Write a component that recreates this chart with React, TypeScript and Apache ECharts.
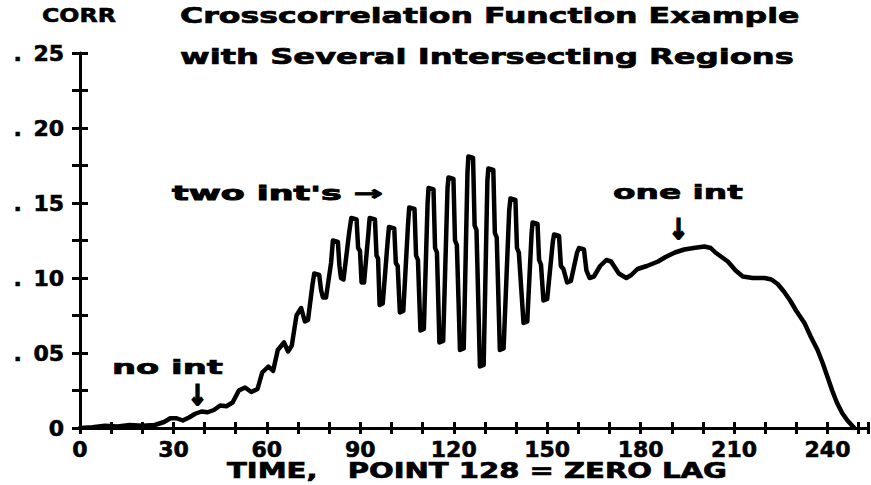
import React, { useEffect, useRef } from "react";
import * as echarts from "echarts";

// ---------- data ----------
const X_MIN = 0;
const X_MAX = 253;
const X_TICK_STEP = 10;
const X_LABEL_STEP = 30;
const Y_MIN = 0;
const Y_MAX = 0.25;
const Y_TICK_STEP = 0.025;
const Y_LABEL_STEP = 0.05;

const TITLE_LINE_1 = "Crosscorrelation Function Example";
const TITLE_LINE_2 = "with Several Intersecting Regions";
const Y_NAME = "CORR";
const X_NAME = "TIME,   POINT 128 = ZERO LAG";
const NOTE_NO = "no int";
const NOTE_TWO = "two int's \u2192";
const NOTE_ONE = "one int";
const ARROW_DOWN = "\u2193";

// correlation values: [time, corr]
const corrEarly: [number, number][] = [
  [0, 0], [4, 0.0005], [8, 0.0015], [12, 0.001], [16, 0.002], [20, 0.0015],
  [24, 0.002], [27, 0.004], [29, 0.0065], [31, 0.0065], [33, 0.005], [35, 0.007],
  [37, 0.0095], [39, 0.011], [41, 0.0105], [43, 0.012], [45, 0.015], [47, 0.0145],
  [49, 0.017], [51, 0.025], [53, 0.027], [55, 0.024], [57, 0.026], [58.5, 0.037],
  [60.5, 0.041], [62, 0.038], [63.5, 0.052], [65.5, 0.057], [66.8, 0.051],
  [68, 0.055], [69.5, 0.075], [71, 0.08], [72.2, 0.071],
];

const corrOscillating: [number, number][] = [
  [73.2, 0.072], [74.6, 0.095], [75.2, 0.103], [76.8, 0.102], [77.4, 0.092], [78, 0.087], [79, 0.087],
  [80.6, 0.11], [81.2, 0.125], [82.8, 0.124], [83.3, 0.108], [83.8, 0.1], [84.6, 0.099],
  [86.4, 0.13], [87.1, 0.14], [88.8, 0.139], [89.3, 0.12], [89.9, 0.118], [90.4, 0.097], [91.2, 0.097],
  [92.6, 0.13], [93, 0.14], [94.7, 0.139], [95.2, 0.115], [95.7, 0.113], [96.2, 0.082], [97.2, 0.083],
  [98.8, 0.125], [99.2, 0.134], [100.9, 0.133], [101.4, 0.11], [102, 0.108], [102.7, 0.077], [103.8, 0.078],
  [105.3, 0.135], [105.7, 0.147], [107.4, 0.146], [107.9, 0.115], [108.5, 0.112], [109.3, 0.065], [110.4, 0.066],
  [111.6, 0.15], [111.9, 0.16], [113.5, 0.159], [114, 0.12], [114.6, 0.117], [115.4, 0.057], [116.6, 0.058],
  [118, 0.16], [118.3, 0.167], [119.9, 0.166], [120.4, 0.125], [121, 0.122], [122, 0.052], [123.2, 0.053],
  [124.4, 0.17], [124.7, 0.181], [126.2, 0.18], [126.7, 0.135], [127.3, 0.132], [128.4, 0.041], [129.6, 0.042],
  [130.8, 0.165], [131.1, 0.173], [132.7, 0.172], [133.2, 0.13], [133.8, 0.127], [134.8, 0.052], [136, 0.053],
  [137.8, 0.145], [138.2, 0.153], [139.8, 0.152], [140.3, 0.12], [140.9, 0.117], [142.4, 0.07], [143.6, 0.071],
  [145, 0.13], [145.3, 0.137], [146.9, 0.136], [147.4, 0.112], [148, 0.109], [148.8, 0.085], [150, 0.086],
  [151.8, 0.124], [152.2, 0.129], [153.8, 0.128], [154.4, 0.108], [155.2, 0.106], [156.4, 0.097], [157.6, 0.098],
  [159.6, 0.117], [160.2, 0.12], [161.8, 0.119], [162.6, 0.105], [163.6, 0.1], [165, 0.101],
];

const corrLate: [number, number][] = [
  [167, 0.108], [169, 0.112], [170.5, 0.111], [173, 0.103], [175.4, 0.1], [177, 0.102],
  [179, 0.106], [182, 0.108], [185.6, 0.111], [188, 0.114], [191, 0.117], [194, 0.119],
  [197, 0.12], [200.5, 0.121], [202.5, 0.12], [204, 0.117], [206, 0.114], [208, 0.111],
  [210.5, 0.105], [212.8, 0.101], [216, 0.1], [219.8, 0.1], [222, 0.099], [224, 0.096],
  [226, 0.091], [228, 0.085], [230, 0.078], [232.6, 0.07], [234.6, 0.061],
  [236.8, 0.052], [238.5, 0.043], [240, 0.034], [241.5, 0.025], [243, 0.017],
  [244.7, 0.01], [246.4, 0.005], [248.6, 0],
];

// ---------- styling ----------
const FONT_FAMILY = '"DejaVu Sans"';
const INK = "#000";

// text blocks: left, right (target width), vertical centre, font size, extra stroke — px
const TEXT_LAYOUT: { text: string; left: number; right: number; cy: number; size: number; stroke: number }[] = [
  { text: Y_NAME, left: 42, right: 116, cy: 15, size: 20, stroke: 0.6 },
  { text: TITLE_LINE_1, left: 180, right: 800, cy: 15, size: 22, stroke: 0.7 },
  { text: TITLE_LINE_2, left: 180, right: 794, cy: 56, size: 22, stroke: 0.7 },
  { text: NOTE_NO, left: 112, right: 223, cy: 367, size: 20, stroke: 0.7 },
  { text: ARROW_DOWN, left: 188, right: 207, cy: 395, size: 28, stroke: 2 },
  { text: NOTE_TWO, left: 172, right: 383, cy: 193, size: 20, stroke: 0.9 },
  { text: NOTE_ONE, left: 613, right: 743, cy: 192, size: 20, stroke: 0.7 },
  { text: ARROW_DOWN, left: 669, right: 688, cy: 229, size: 28, stroke: 2 },
  { text: X_NAME, left: 227, right: 727, cy: 471, size: 21, stroke: 0.7 },
];

function measure(text: string, font: string): number {
  const ctx = document.createElement("canvas").getContext("2d");
  if (!ctx) return text.length * 12;
  ctx.font = font;
  return ctx.measureText(text).width;
}

function yLabel(v: number): string {
  const r = Math.round(v * 1000);
  if (r % Math.round(Y_LABEL_STEP * 1000) !== 0) return "";
  if (r === 0) return "0";
  return "{d|.}" + String(Math.round(v * 100)).padStart(2, "0");
}

function xLabel(v: number): string {
  const r = Math.round(v);
  if (Math.abs(v - r) > 1e-6) return "";
  return r % X_LABEL_STEP === 0 ? String(r) : "";
}

export default function App() {
  const ref = useRef<HTMLDivElement>(null);

  useEffect(() => {
    if (!ref.current) return;
    const chart = echarts.init(ref.current, null, { renderer: "svg" });

    const graphics = TEXT_LAYOUT.map((t) => {
      const font = `bold ${t.size}px ${FONT_FAMILY}`;
      const w = measure(t.text, font);
      const sx = w > 0 ? (t.right - t.left) / w : 1;
      return {
        type: "text",
        x: t.left,
        y: t.cy,
        scaleX: sx,
        silent: true,
        style: {
          text: t.text,
          font,
          fill: INK,
          stroke: INK,
          lineWidth: t.stroke,
          textAlign: "left",
          textVerticalAlign: "middle",
          align: "left",
          verticalAlign: "middle",
        },
      };
    });

    const axisCommonX = {
      type: "value",
      min: X_MIN,
      max: X_MAX,
      interval: X_TICK_STEP,
      position: "bottom",
      splitLine: { show: false },
    };
    const axisCommonY = {
      type: "value",
      min: Y_MIN,
      max: Y_MAX,
      interval: Y_TICK_STEP,
      position: "left",
      splitLine: { show: false },
    };
    const labelFont = {
      color: INK,
      fontFamily: FONT_FAMILY,
      fontWeight: "bold",
      fontSize: 22,
      textBorderColor: INK,
      textBorderWidth: 0.6,
    };

    chart.setOption({
      animation: false,
      backgroundColor: "#fff",
      grid: { left: 80, right: 1, top: 53, bottom: 57, containLabel: false },
      xAxis: [
        {
          ...axisCommonX,
          axisLine: { show: true, lineStyle: { color: INK, width: 3 } },
          axisTick: { show: true, inside: false, length: 6, lineStyle: { color: INK, width: 3 } },
          axisLabel: { show: true, formatter: xLabel, ...labelFont, margin: 10, showMinLabel: true, showMaxLabel: true },
        },
        {
          ...axisCommonX,
          axisLine: { show: false },
          axisTick: { show: true, inside: true, length: 6, lineStyle: { color: INK, width: 3 } },
          axisLabel: { show: false },
        },
      ],
      yAxis: [
        {
          ...axisCommonY,
          axisLine: { show: true, lineStyle: { color: INK, width: 3 } },
          axisTick: { show: true, inside: false, length: 8, lineStyle: { color: INK, width: 3 } },
          axisLabel: {
            show: true,
            formatter: yLabel,
            ...labelFont,
            margin: 16,
            showMinLabel: true,
            showMaxLabel: true,
            rich: {
              d: {
                width: 20,
                align: "left",
                color: INK,
                fontFamily: FONT_FAMILY,
                fontWeight: "bold",
                fontSize: 22,
                textBorderColor: INK,
                textBorderWidth: 0.6,
              },
            },
          },
        },
        {
          ...axisCommonY,
          axisLine: { show: false },
          axisTick: { show: true, inside: true, length: 8, lineStyle: { color: INK, width: 3 } },
          axisLabel: { show: false },
        },
      ],
      series: [
        {
          type: "line",
          xAxisIndex: 0,
          yAxisIndex: 0,
          data: [...corrEarly, ...corrOscillating, ...corrLate],
          showSymbol: false,
          symbol: "none",
          smooth: false,
          lineStyle: { color: INK, width: 4.5, join: "round", cap: "round" },
          z: 3,
        },
      ],
      graphic: graphics,
    });

    return () => chart.dispose();
  }, []);

  return (
    <div
      ref={ref}
      style={{ position: "fixed", left: 0, top: 0, width: 871, height: 485, background: "#fff" }}
    />
  );
}
